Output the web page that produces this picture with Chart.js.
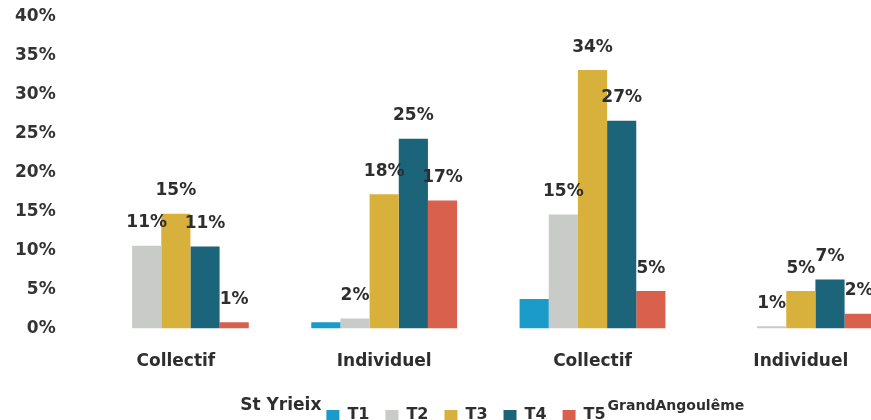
<!DOCTYPE html>
<html>
<head>
<meta charset="utf-8">
<script src="https://cdn.jsdelivr.net/npm/chart.js@4/dist/chart.umd.min.js"></script>
<style>
  body { margin: 0; background: #fff; overflow: hidden; }
  .wrap { width: 871px; height: 420px; overflow: hidden; }
  #myChart { display: block; margin-top: -2px; }
</style>
</head>
<body>
<div class="wrap">
  <canvas id="myChart" width="905" height="435"></canvas>
</div>
<script>
// data (percent)
const categories = ["Collectif", "Individuel", "Collectif", "Individuel"];
const seriesNames = ["T1", "T2", "T3", "T4", "T5"];
const t1 = [0, 0.8, 3.8, 0];
const t2 = [10.6, 1.3, 14.6, 0.3];
const t3 = [14.7, 17.2, 33.1, 4.8];
const t4 = [10.5, 24.3, 26.6, 6.3];
const t5 = [0.8, 16.4, 4.8, 1.9];
const groupNames = ["St Yrieix", "GrandAngoulême"];
const colors = ["#1b9bc9", "#c9cbc8", "#d8b03c", "#1b6479", "#d9604c"];

const FONT = "'DejaVu Sans', sans-serif";
const TEXT = "#2e2e2e";
const LEGEND_SHIFT = 10;

// value labels above the bars (T1 has none in the original)
const barLabels = {
  id: "barLabels",
  afterDatasetsDraw(chart) {
    const ctx = chart.ctx;
    ctx.save();
    ctx.font = "bold 17px " + FONT;
    ctx.fillStyle = TEXT;
    ctx.textAlign = "center";
    ctx.textBaseline = "middle";
    chart.data.datasets.forEach((ds, i) => {
      if (i === 0) return;
      chart.getDatasetMeta(i).data.forEach((bar, j) => {
        const v = ds.data[j];
        if (!v) return;
        ctx.fillText(Math.ceil(v) + "%", bar.x, bar.y - 23);
      });
    });
    ctx.restore();
  }
};

// "St Yrieix" and "GrandAngoulême" on each side of the legend
const groupTitles = {
  id: "groupTitles",
  afterUpdate(chart) {
    // legend sits a bit right of centre in the original
    const lg = chart.legend;
    lg.left += LEGEND_SHIFT;
    lg.right += LEGEND_SHIFT;
    lg.legendHitBoxes.forEach(hb => { hb.left += LEGEND_SHIFT; });
  },
  afterDraw(chart) {
    const boxes = chart.legend.legendHitBoxes;
    if (!boxes || !boxes.length) return;
    const first = boxes[0], last = boxes[boxes.length - 1];
    const ctx = chart.ctx;
    ctx.save();
    ctx.fillStyle = TEXT;
    ctx.textBaseline = "middle";
    ctx.font = "bold 17px " + FONT;
    ctx.textAlign = "right";
    ctx.fillText(groupNames[0], first.left - 5, first.top + first.height / 2 - 9);
    ctx.font = "bold 14px " + FONT;
    ctx.textAlign = "left";
    ctx.fillText(groupNames[1], last.left + last.width + 2, last.top + last.height / 2 - 9);
    ctx.restore();
  }
};

const seriesData = [t1, t2, t3, t4, t5];

new Chart(document.getElementById("myChart").getContext("2d"), {
  type: "bar",
  data: {
    labels: categories,
    datasets: seriesNames.map((name, i) => ({
      label: name,
      data: seriesData[i],
      backgroundColor: colors[i],
      categoryPercentage: 0.7,
      barPercentage: 1.0
    }))
  },
  options: {
    responsive: false,
    animation: false,
    layout: { padding: { top: 4, left: 7, right: 0, bottom: 0 } },
    plugins: {
      tooltip: { enabled: false },
      legend: {
        position: "bottom",
        labels: {
          boxWidth: 13,
          boxHeight: 10,
          padding: 16,
          color: TEXT,
          font: { family: FONT, size: 16, weight: "bold" }
        }
      }
    },
    scales: {
      x: {
        grid: { display: false },
        border: { display: false },
        afterFit: s => { s.height += 4; },
        ticks: { color: TEXT, padding: 15, font: { family: FONT, size: 17, weight: "bold" } }
      },
      y: {
        min: 0,
        max: 40,
        grid: { display: false },
        border: { display: false },
        ticks: {
          stepSize: 5,
          padding: 8,
          color: "#333",
          font: { family: FONT, size: 17, weight: "bold" },
          callback: v => v + "%"
        }
      }
    }
  },
  plugins: [barLabels, groupTitles]
});
</script>
</body>
</html>
